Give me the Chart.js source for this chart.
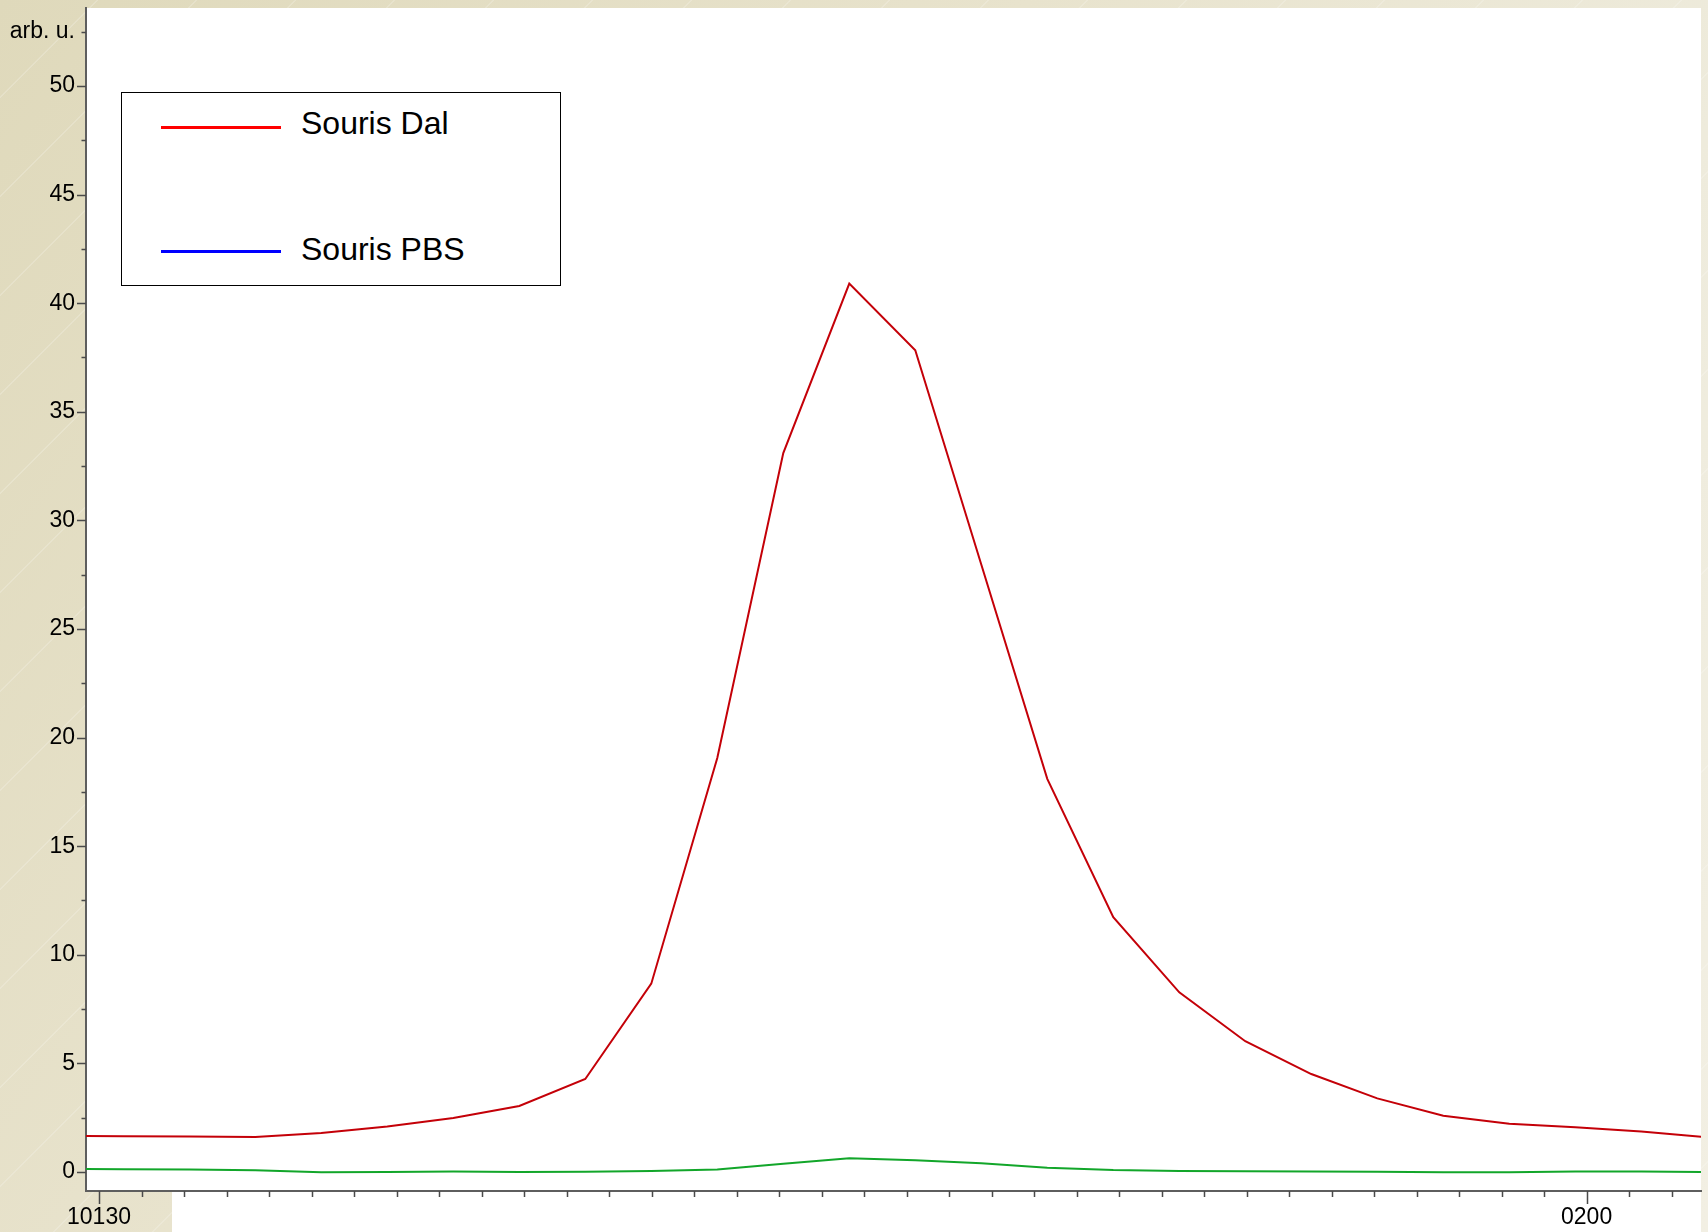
<!DOCTYPE html>
<html>
<head>
<meta charset="utf-8">
<title>Souris Dal / Souris PBS</title>
<script src="https://cdn.jsdelivr.net/npm/chart.js@4.4.0/dist/chart.umd.min.js"></script>
<style>
  html, body { margin: 0; padding: 0; }
  body {
    width: 1708px; height: 1232px; overflow: hidden;
    background:
      repeating-linear-gradient(135deg, rgba(255,255,255,0) 0px, rgba(255,255,255,0) 68px, rgba(255,255,255,0.28) 69px, rgba(255,255,255,0) 70px),
      linear-gradient(125deg, #dfd9bb 0%, #e8e3cd 40%, #eeebdc 70%, #f2efe3 100%);
    font-family: "Liberation Sans", Arial, sans-serif;
  }
  #wrap { position: relative; width: 1708px; height: 1232px; }
  #chart { position: absolute; left: 0; top: 0; }
  #legend {
    position: absolute; left: 121px; top: 92px; width: 438px; height: 192px;
    border: 1.5px solid #000; background: #fff;
  }
  .lg-line { position: absolute; left: 39px; width: 120px; }
  .lg-text { position: absolute; left: 179px; font-size: 32px; line-height: 32px; color: #000; white-space: nowrap; }
</style>
</head>
<body>
<div id="wrap">
  <canvas id="chart" width="1708" height="1232"></canvas>
  <div id="legend"></div>
</div>
<script>
// data, one sample every step along x
var seriesNames = ['Souris Dal', 'Souris PBS'];
var dalValues = [1.68, 1.64, 1.63, 1.61, 1.80, 2.09, 2.49, 3.04, 4.28, 8.67, 19.06, 33.1, 40.9,
                 37.83, 27.97, 18.1, 11.73, 8.27, 6.02, 4.51, 3.39, 2.59, 2.22, 2.06, 1.86, 1.60];
var pbsValues = [0.15, 0.13, 0.11, 0.08, -0.01, 0.00, 0.02, 0.00, 0.01, 0.05, 0.11, 0.38, 0.63,
                 0.54, 0.40, 0.20, 0.09, 0.05, 0.03, 0.02, 0.01, -0.01, -0.01, 0.02, 0.02, 0.00];
var lineColors = ['#c40008', '#12a62a'];
var legendColors = ['#ff0000', '#0000ff'];

// x axis: minor tick every 0.644 sample, two labelled ticks
var xTickStart = 0.632, xTickStep = 0.644, xTickCount = 38;
var xTickLabels = { 0: '10130', 35: '0200' };
// y axis: labelled every 5, minor every 2.5, unit label on top tick
var yTickValues = [0, 2.5, 5, 7.5, 10, 12.5, 15, 17.5, 20, 22.5, 25, 27.5, 30, 32.5,
                   35, 37.5, 40, 42.5, 45, 47.5, 50, 52.5];
var yUnitLabel = 'arb. u.';

var xTicks = [];
for (var k = 0; k < xTickCount; k++) xTicks.push(xTickStart + k * xTickStep);

function toPoints(arr) {
    return arr.map(function(v, i) { return { x: i, y: v }; });
}

var tickFont = { family: '"Liberation Sans", Arial, sans-serif', size: 23 };

var backdrop = {
    id: 'backdrop',
    beforeDraw: function(chart) {
        var a = chart.chartArea, c = chart.ctx;
        c.save();
        c.fillStyle = '#ffffff';
        c.fillRect(a.left, a.top, a.right - a.left, a.bottom - a.top);
        c.fillRect(a.left + 86, a.bottom, a.right - a.left - 86, chart.height - a.bottom);
        c.restore();
    }
};

var tickMarks = {
    id: 'tickMarks',
    afterDraw: function(chart) {
        var c = chart.ctx, xs = chart.scales.x, ys = chart.scales.y, a = chart.chartArea;
        c.save();
        c.strokeStyle = '#4a4a4a';
        c.lineWidth = 1.5;
        c.beginPath();
        xTicks.forEach(function(v, k) {
            var px = Math.round(xs.getPixelForValue(v)) + 0.5;
            var len = xTickLabels[k] ? 13 : 6;
            c.moveTo(px, a.bottom);
            c.lineTo(px, a.bottom + len);
        });
        yTickValues.forEach(function(v) {
            var py = Math.round(ys.getPixelForValue(v)) + 0.5;
            var len = (v % 5 === 0) ? 9 : 4.5;
            c.moveTo(a.left, py);
            c.lineTo(a.left - len, py);
        });
        c.stroke();
        c.restore();
    }
};

var ctx = document.getElementById('chart').getContext('2d');
var chart = new Chart(ctx, {
    type: 'line',
    data: {
        datasets: [{
            label: seriesNames[0],
            data: toPoints(dalValues),
            borderColor: lineColors[0],
            borderWidth: 2,
            pointRadius: 0,
            tension: 0
        }, {
            label: seriesNames[1],
            data: toPoints(pbsValues),
            borderColor: lineColors[1],
            borderWidth: 2,
            pointRadius: 0,
            tension: 0
        }]
    },
    options: {
        responsive: false,
        animation: false,
        devicePixelRatio: 1,
        layout: { padding: { top: 8, right: 7, left: 0, bottom: 0 } },
        plugins: { legend: { display: false }, tooltip: { enabled: false } },
        scales: {
            x: {
                type: 'linear',
                min: 0.435,
                max: 24.905,
                afterBuildTicks: function(scale) {
                    scale.ticks = xTicks.map(function(v) { return { value: v }; });
                },
                afterFit: function(scale) {
                    scale.height = 41;
                    scale.paddingLeft = 0;
                    scale.paddingRight = 0;
                },
                grid: { display: false, drawTicks: false },
                border: { display: true, color: '#5e5e5e', width: 2 },
                ticks: {
                    autoSkip: false, maxRotation: 0, minRotation: 0,
                    padding: 13, color: '#000', font: tickFont,
                    callback: function(v, i) { return xTickLabels[i] || ''; }
                }
            },
            y: {
                type: 'linear',
                min: -0.875,
                max: 53.59,
                afterBuildTicks: function(scale) {
                    scale.ticks = yTickValues.map(function(v) { return { value: v }; });
                },
                afterFit: function(scale) {
                    scale.width = 86;
                    scale.paddingTop = 0;
                    scale.paddingBottom = 0;
                },
                grid: { display: false, drawTicks: false },
                border: { display: true, color: '#5e5e5e', width: 2 },
                ticks: {
                    padding: 11, color: '#000', font: tickFont,
                    callback: function(v) {
                        if (v === 52.5) return yUnitLabel;
                        return v % 5 === 0 ? String(v) : '';
                    }
                }
            }
        }
    },
    plugins: [backdrop, tickMarks]
});

// framed legend, sample lines in the legend colours
var legend = document.getElementById('legend');
var legendRows = [{ line: 33, text: 14 }, { line: 157, text: 140 }];
chart.data.datasets.forEach(function(ds, i) {
    var ln = document.createElement('div');
    ln.className = 'lg-line';
    ln.style.top = legendRows[i].line + 'px';
    ln.style.height = (i === 0 ? 3 : 2.5) + 'px';
    ln.style.background = legendColors[i];
    legend.appendChild(ln);
    var tx = document.createElement('div');
    tx.className = 'lg-text';
    tx.style.top = legendRows[i].text + 'px';
    tx.textContent = ds.label;
    legend.appendChild(tx);
});
</script>
</body>
</html>
